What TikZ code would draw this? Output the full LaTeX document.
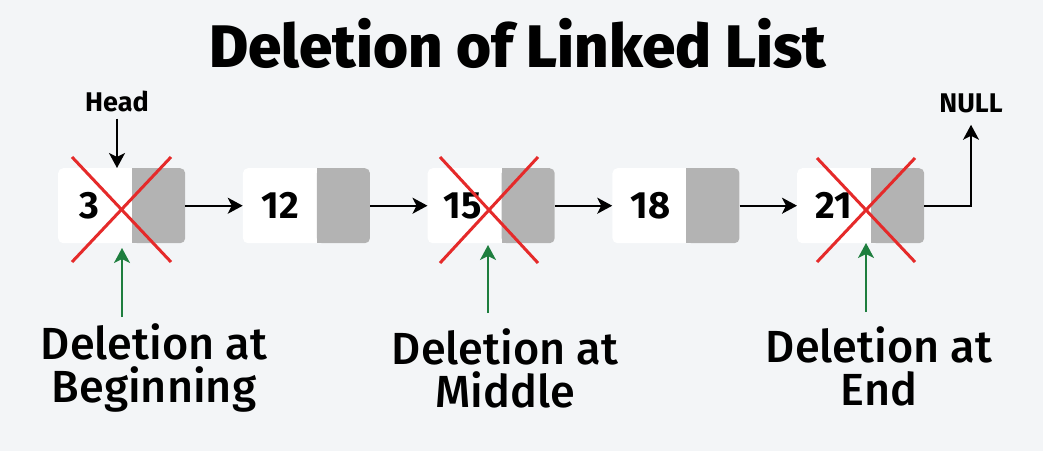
\documentclass[tikz,border=0pt]{standalone}
\usepackage{fontspec}
\setmainfont{Fira Sans}
\newfontfamily\medfont{Fira Sans Medium}
\newfontfamily\heavyfont{Fira Sans ExtraBold}
\usetikzlibrary{arrows.meta}
\definecolor{bg}{HTML}{F3F5F7}
\definecolor{ptrgray}{HTML}{B3B3B3}
\definecolor{xred}{HTML}{E52A2A}
\definecolor{grn}{HTML}{1E7E3E}
\begin{document}
\begin{tikzpicture}[x=1pt,y=-1pt,
  databox/.style={fill=white, rounded corners=5pt, minimum width=127pt, minimum height=75pt, inner sep=0pt, anchor=north west},
  ptrbox/.style={fill=ptrgray, rounded corners=5pt, minimum width=53pt, minimum height=75pt, inner sep=0pt, anchor=north east},
  val/.style={font=\bfseries\fontsize{38}{40}\selectfont, inner sep=0pt, anchor=west},
  tip/.style={-{Stealth[length=15pt,width=16pt,inset=4pt]}},
  link/.style={line width=2pt, tip},
  crossline/.style={xred, line width=3pt},
  grnarrow/.style={grn, line width=2pt, tip},
  lbl/.style={font=\medfont\fontsize{45}{43}\selectfont, align=center, anchor=north, inner sep=0pt},
  small/.style={font=\bfseries\fontsize{27}{27}\selectfont, inner sep=0pt}
]
\fill[bg] (0,0) rectangle (1043,451);
\useasboundingbox (0,0) rectangle (1043,451);

\node[font=\heavyfont\fontsize{60}{60}\selectfont, inner sep=0pt, anchor=base] (title) at (517.5,67) {Deletion of Linked List};

% nodes
\node[databox] (b1) at (58,168) {};
\node[databox] (b2) at (242.75,168) {};
\node[databox] (b3) at (427.5,168) {};
\node[databox] (b4) at (612.25,168) {};
\node[databox] (b5) at (797,168) {};
\foreach \i in {1,...,5}{
  \node[ptrbox] (p\i) at (b\i.north east) {};
  \fill[ptrgray] (p\i.north west) rectangle ([xshift=10pt]p\i.south west);
}
\node[val] (v1) at ([xshift=21pt]b1.west) {3};
\node[val] (v2) at ([xshift=19pt]b2.west) {12};
\node[val] (v3) at ([xshift=16pt]b3.west) {15};
\node[val] (v4) at ([xshift=18pt]b4.west) {18};
\node[val] (v5) at ([xshift=18pt]b5.west) {21};

% links
\draw[link] (p1.east) -- (b2.west);
\draw[link] (p2.east) -- (b3.west);
\draw[link] (p3.east) -- (b4.west);
\draw[link] (p4.east) -- (b5.west);

% head and null
\node[small] (head) at (117,101) {Head};
\draw[link] ([yshift=-7pt]head.south) -- (head.south |- b1.north);
\node[small] (null) at (971,103) {NULL};
\draw[line width=2pt, tip] (p5.east) -| ([yshift=-12pt]null.south);

% crosses
\draw[crossline] (72,157) -- (171,262);
\draw[crossline] (171,157) -- (72,262);
\draw[crossline] (440,157) -- (538,263);
\draw[crossline] (538,157) -- (440,263);
\draw[crossline] (817,158) -- (915,262);
\draw[crossline] (915,158) -- (817,262);

% labels
\node[lbl] (l1) at (154,323) {Deletion at\\Beginning};
\node[lbl] (l2) at (505,328) {Deletion at\\Middle};
\node[lbl] (l3) at (879,326) {Deletion at\\End};

\coordinate (g1s) at (122,317);
\coordinate (g1e) at (122,248);
\coordinate (g2s) at (488,313);
\coordinate (g2e) at (488,245);
\coordinate (g3s) at (866,312);
\coordinate (g3e) at (866,243);
\draw[grnarrow] (g1s) -- (g1e);
\draw[grnarrow] (g2s) -- (g2e);
\draw[grnarrow] (g3s) -- (g3e);
\end{tikzpicture}
\end{document}
